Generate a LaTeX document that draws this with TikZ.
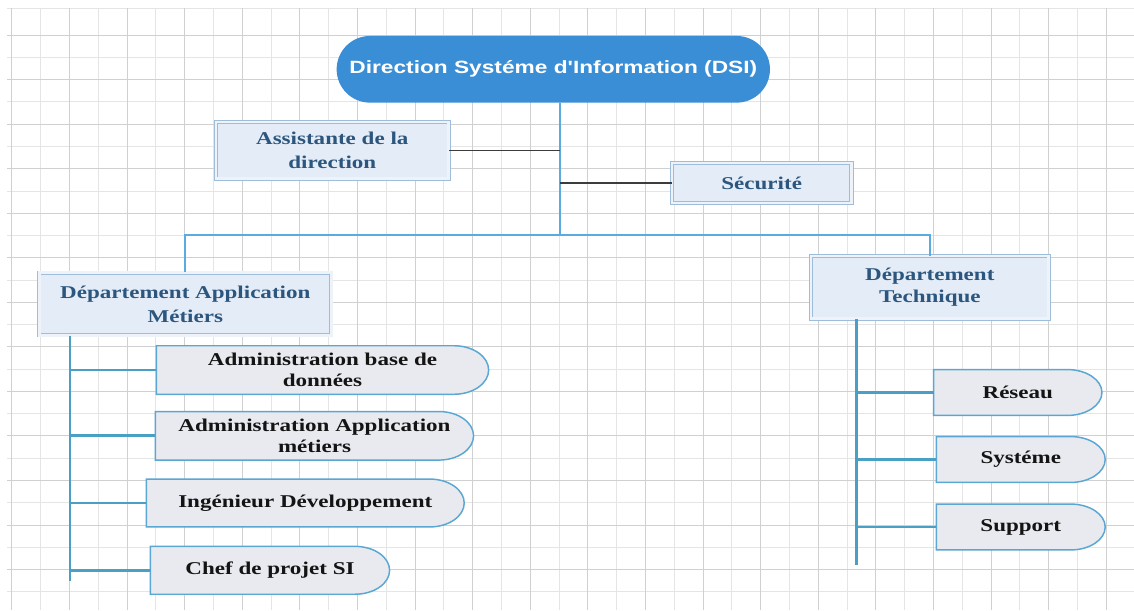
\documentclass[tikz,border=0pt]{standalone}
\usepackage{fontspec}
\usetikzlibrary{shapes.misc,calc,backgrounds}
\newfontfamily\boxfont[FakeStretch=1.28]{Liberation Serif}
\newfontfamily\titlefont[FakeStretch=1.28]{Liberation Sans}

\tikzset{
  gridmajor/.style={color={rgb, 255:red, 208; green, 208; blue, 208}, line width=0.6pt},
  gridminor/.style={color={rgb, 255:red, 229; green, 229; blue, 229}, line width=0.5pt},
  title/.style={rounded rectangle, fill={rgb, 255:red, 58; green, 142; blue, 214}, text=white,
    inner sep=0pt, minimum width=325pt, minimum height=50pt, font=\titlefont\bfseries\fontsize{13.3}{16}\selectfont},
  service/.style={rectangle, fill={rgb, 255:red, 228; green, 236; blue, 247},
    draw={rgb, 255:red, 158; green, 189; blue, 219}, double={rgb, 255:red, 238; green, 243; blue, 250},
    double distance=2pt, line width=0.6pt, inner sep=0pt, align=center,
    text={rgb, 255:red, 44; green, 86; blue, 126}, font=\boxfont\bfseries\fontsize{13.5}{18}\selectfont},
  tab/.style={rectangle, inner sep=0pt, align=center, text={rgb, 255:red, 20; green, 20; blue, 20},
    font=\boxfont\bfseries\fontsize{13.5}{16}\selectfont},
  tabline/.style={fill={rgb, 255:red, 233; green, 234; blue, 239}, draw={rgb, 255:red, 90; green, 167; blue, 212}, line width=1.1pt},
  bus/.style={color={rgb, 255:red, 91; green, 170; blue, 224}, line width=1.5pt},
  link/.style={color={rgb, 255:red, 60; green, 60; blue, 60}, line width=1.2pt},
  trunk/.style={color={rgb, 255:red, 74; green, 160; blue, 196}, line width=2.1pt}
}

\begin{document}
\begin{tikzpicture}[x=0.75pt,y=0.75pt,yscale=-1,xscale=1]
\useasboundingbox (0,0) rectangle (1134,610);

%Grid paper
\begin{scope}[on background layer]
\fill[white] (0,0) rectangle (1134,610);
\draw[gridminor] (7,8) -- (1134,8);
\foreach \i in {0,...,18} \draw[gridminor] ({40.5+57.6*\i},8) -- ({40.5+57.6*\i},610);
\foreach \j in {0,...,12} \draw[gridminor] (7,{57.24+44.54*\j}) -- (1134,{57.24+44.54*\j});
\foreach \i in {0,...,19} \draw[gridmajor] ({11.7+57.6*\i},8) -- ({11.7+57.6*\i},610);
\foreach \j in {0,...,12} \draw[gridmajor] (7,{35+44.54*\j}) -- (1134,{35+44.54*\j});
\end{scope}

% Text Node
\draw (553.3,69.3) node (dsi) [title] {Direction Systéme d'Information (DSI)};
% Text Node
\draw (332.3,150.3) node (assist) [service, minimum width=174.5pt, minimum height=42.5pt] {Assistante de la\\direction};
% Text Node
\draw (761.7,183) node (secu) [service, minimum width=134.5pt, minimum height=30pt] {Sécurité};
% Text Node
\draw (185.3,304) node (deptapp) [service, minimum width=219pt, minimum height=47pt] {Département Application\\Métiers};
% Text Node
\draw (929.8,287.3) node (depttech) [service, minimum width=178.3pt, minimum height=47pt, font=\boxfont\bfseries\fontsize{13.5}{16}\selectfont] {Département\\Technique};

% Text Node
\draw (322.5,370) node (dbadmin) [tab, minimum width=248.8pt, minimum height=36pt] {Administration base de\\données};
% Text Node
\draw (314.5,435.8) node (appadmin) [tab, minimum width=238.2pt, minimum height=36pt] {Administration Application\\métiers};
% Text Node
\draw (305.3,503) node (ingdev) [tab, minimum width=238pt, minimum height=35.5pt] {Ingénieur Développement};
% Text Node
\draw (270,570.3) node (chefproj) [tab, minimum width=179pt, minimum height=35.5pt] {Chef de projet SI};
% Text Node
\draw (1017.8,392.5) node (reseau) [tab, minimum width=125.8pt, minimum height=34pt] {Réseau};
% Text Node
\draw (1020.8,459.5) node (systeme) [tab, minimum width=126.2pt, minimum height=34pt] {Systéme};
% Text Node
\draw (1020.8,527) node (support) [tab, minimum width=126.2pt, minimum height=34pt] {Support};

%Shape: tabs, flat left, round right
\begin{scope}[on background layer]
\foreach \n in {dbadmin,appadmin,ingdev,chefproj,reseau,systeme,support}
  \draw[tabline] (\n.north west) -- ([xshift=-26pt]\n.north east)
    .. controls ([xshift=-11.6pt]\n.north east) and ($(\n.east)!0.552!(\n.north east)$) .. (\n.east)
    .. controls ($(\n.east)!0.552!(\n.south east)$) and ([xshift=-11.6pt]\n.south east) .. ([xshift=-26pt]\n.south east)
    -- (\n.south west) -- cycle;
\end{scope}

%Straight Lines
\coordinate (hub) at (560,235);
\coordinate (append) at (70,580.7);
\coordinate (techend) at (856.7,565);
\draw[bus] (dsi.south -| hub) -- (hub);
\draw[bus] (deptapp.north) -- (deptapp.north |- hub) -- (depttech.north |- hub) -- (depttech.north);
\draw[link] (assist.east) -- (assist.east -| hub);
\draw[link] (secu.west) -- (secu.west -| hub);

%Straight Lines
\draw[trunk] (deptapp.south -| append) -- (append);
\foreach \n in {dbadmin,appadmin,ingdev,chefproj}
  \draw[trunk] (\n.west -| append) -- (\n.west);
\draw[trunk] (depttech.south -| techend) -- (techend);
\foreach \n in {reseau,systeme,support}
  \draw[trunk] (\n.west -| techend) -- (\n.west);

\end{tikzpicture}
\end{document}
